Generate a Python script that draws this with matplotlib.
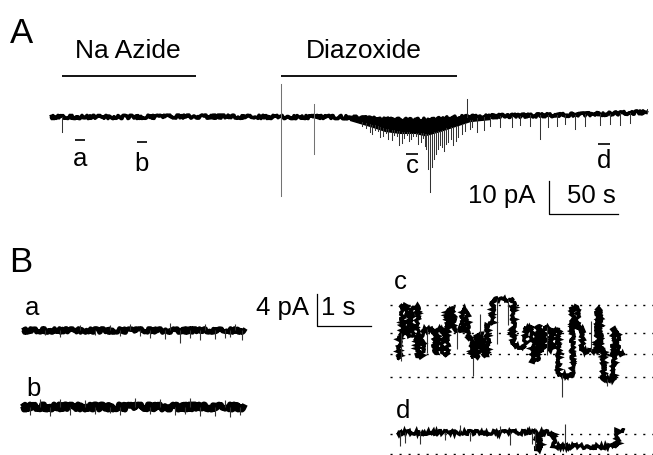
import numpy as np
import matplotlib
matplotlib.use("Agg")
import matplotlib.pyplot as plt

plt.rcParams['font.family'] = ['Liberation Sans', 'DejaVu Sans']

W, H, DPI = 653, 456, 100

# ------------------------------------------------------------------ data
# Panel A : whole recording (time in s, current in pA)
drug_names = ["Na Azide", "Diazoxide"]
drug_start = [8.7, 167.4]
drug_end = [105.8, 295.0]

A_base_t = [0, 50.7, 108.7, 166.7, 210.1, 224.6, 239.1, 253.6, 268.1, 282.6, 297.1, 326.1, 369.6, 398.6, 433.3]
A_base_i = [0, 0, 0.15, 0, 0, -0.3, -0.7, -0.9, -0.9, -0.6, -0.1, 0.3, 0.6, 0.9, 1.5]

# dense openings band during diazoxide
A_band_t = [217.4, 231.9, 242.8, 253.6, 264.5, 271.7, 282.6, 293.5, 304.3, 318.8]
A_band_top = [0.2, -0.2, -0.5, -0.7, -0.8, -0.8, -0.6, -0.2, 0.2, 0.3]
A_band_bot = [-0.9, -2.7, -4.2, -4.8, -4.8, -5.5, -4.2, -2.7, -1.2, -0.6]

A_spike_t = [8.7, 167.4, 167.4, 191.3, 191.3, 231.9, 235.5, 239.1, 243.5, 247.8, 251.4, 255.1,
             258.7, 261.6, 265.2, 268.8, 271.7, 273.9, 275.4, 276.8, 278.3, 281.2, 284.1,
             287.0, 290.6, 294.2, 298.6, 302.2, 304.3, 309.4, 326.1, 340.6, 355.1, 367.4,
             380.4, 398.6, 413.0, 432.6,
             226.1, 229.0, 233.3, 237.7, 241.3, 244.9, 249.3, 252.9, 256.5, 260.1, 263.0,
             266.7, 270.3, 272.5, 279.7, 282.6, 285.5, 288.4, 292.0, 295.7, 300.7, 305.8,
             314.5, 318.8, 334.8, 347.8, 360.9, 373.2, 387.7, 405.8, 420.3]
A_spike_base = [0, 0, 0, 0, 0, -2.0, -2.5, -3.0, -3.5, -4.0, -4.2, -4.5,
                -4.6, -4.7, -4.8, -4.8, -5.0, -5.2, -5.4, -5.0, -4.6, -4.2, -3.8,
                -3.4, -3.0, -2.6, -2.0, 0, -1.0, -0.2, 0.3, 0.4, 0.5, 0.6,
                0.7, 0.9, 1.1, 1.5,
                -1.6, -1.9, -2.3, -2.7, -3.2, -3.6, -4.0, -4.3, -4.5, -4.6, -4.7,
                -4.8, -4.9, -5.2, -4.6, -4.2, -3.9, -3.5, -3.0, -2.6, -1.8, -1.0,
                0.0, 0.1, 0.4, 0.5, 0.6, 0.6, 0.8, 1.0, 1.2]
A_spike_peak = [-4.5, 10.0, -23.9, 3.9, -11.2, -4.5, -3.9, -6.1, -4.8, -7.0, -5.8, -7.9,
                -5.5, -6.7, -5.8, -7.6, -8.8, -15.8, -22.7, -15.2, -12.7, -9.7, -9.1,
                -8.2, -6.7, -7.3, -5.2, 5.5, -3.6, -4.5, -3.0, -2.4, -6.7, -2.7,
                -3.6, -2.4, -2.4, 2.4,
                -2.7, -3.3, -5.2, -4.2, -5.8, -6.7, -5.5, -8.5, -6.4, -7.3, -5.8,
                -8.2, -6.4, -9.7, -11.2, -8.5, -10.3, -7.6, -8.5, -6.1, -4.2, -3.0,
                -3.9, -2.7, -3.0, -2.7, -3.0, -2.1, -2.7, -2.1, -1.8]

seg_names = ["a", "b", "c", "d"]
seg_start = [18.1, 63.0, 258.0, 397.1]
seg_end = [25.4, 70.3, 266.7, 405.8]

# Panel B traces (time in s, current in pA)
a_t = [0, 4.13]
a_i = [0, 0]
a_spk_t = [0.704, 1.352, 1.815, 2.370, 2.648, 2.926, 3.111, 3.296, 3.574, 3.759, 4.074,
           2.0, 1.630, 2.741, 3.389, 3.944, 1.074, 0.426, 2.185, 3.852]
a_spk_i = [-0.875, -0.625, -0.75, -1.0, -1.125, -1.625, -1.0, -1.25, -1.125, -1.0, -1.25,
           0.75, 0.625, 0.875, 0.75, 0.75, 0.625, -0.625, -0.75, -0.875]

b_t = [0, 4.13]
b_i = [0, 0]
b_spk_t = [0.148, 0.519, 0.889, 1.352, 1.815, 2.370, 2.833, 3.296, 3.574, 3.852, 4.037,
           0.333, 1.167, 2.093, 2.556, 3.111, 3.759, 1.630, 3.019, 0.704]
b_spk_i = [-1.0, -1.125, -1.0, -0.875, -1.0, -0.875, -1.0, -1.125, -1.125, -1.25, -1.0,
           1.0, 0.875, 1.125, 1.0, 1.125, 0.875, -0.75, -0.875, 1.0]

c_edges = [0, 0.037, 0.093, 0.185, 0.278, 0.370, 0.463, 0.685, 0.741, 0.852, 0.926, 1.037,
           1.204, 1.296, 1.389, 1.481, 1.574, 1.667, 1.759, 2.148, 2.370, 2.500, 2.593,
           2.648, 2.704, 2.815, 2.870, 2.981, 3.241, 3.333, 3.426, 3.704, 3.759, 3.815,
           4.000, 4.074, 4.185]
c_levels = [-6.5, -3.5, 0, -3.6, -0.1, -6.4, -3.0, -5.75, -3.0, -6.1, -0.5, -3.0, -0.5,
            -4.0, -6.5, -3.6, -6.1, -2.4, 0.75, -5.1, -2.75, -7.0, -2.75, -5.75, -2.75,
            -5.5, -3.0, -8.75, -0.25, -3.0, -5.75, -0.5, -5.5, -9.25, -3.0, -6.0]
c_spk_t = [0.07, 1.407, 1.852, 3.056, 1.537, 3.889, 0.55, 1.12, 2.05, 2.78, 3.60]
c_spk_base = [-3.5, -6.5, 0.75, -8.75, -3.6, -9.25, -3.0, -3.0, 0.75, -2.75, -5.75]
c_spk_peak = [-7.0, -8.9, -4.9, -11.5, -1.1, -10.1, -6.0, -5.5, -2.5, -6.2, -2.0]
c_dotted = [0, -3.5, -6.1, -9.0]

d_edges = [0, 2.593, 2.648, 2.889, 4.074, 4.185]
d_levels = [0.25, -1.9, 0.25, -1.5, 0.6]
d_spk_t = [0.056, 0.148, 0.426, 0.889, 1.352, 2.093, 2.5, 2.556, 3.111, 1.167, 1.907]
d_spk_base = [0.25, 0.25, 0.25, 0.25, 0.25, 0.25, 0.25, 0.25, -1.5, 0.25, 0.25]
d_spk_peak = [-1.5, -1.125, -1.25, -0.75, -0.875, -1.375, -1.25, -1.875, 1.25, 1.125, 1.0]
d_dotted = [0, -2.5]

# ------------------------------------------------------------------ layout helpers
fig = plt.figure(figsize=(W / DPI, H / DPI), dpi=DPI)


def make_axes(left, right, top, bottom, x0_px, y0_px, px_x, px_y):
    ax = fig.add_axes([left / W, 1 - bottom / H, (right - left) / W, (bottom - top) / H])
    ax.set_xlim((left - x0_px) / px_x, (right - x0_px) / px_x)
    ax.set_ylim((y0_px - bottom) / px_y, (y0_px - top) / px_y)
    ax.axis('off')
    return ax


def ftext(x, y, s, size, **kw):
    fig.text(x / W, 1 - y / H, s, fontsize=size, va='baseline', **kw)


def noisy(artist, amp, length=0.6):
    artist.set_sketch_params(scale=amp, length=length, randomness=3.0)


# ------------------------------------------------------------------ Panel A
axA = make_axes(0, W, 0, H, 50, 118, 1.38, 3.3)
ln, = axA.plot(A_base_t, A_base_i, color='black', lw=2.6, solid_capstyle='butt')
noisy(ln, 1.6)
pc = axA.fill_between(A_band_t, A_band_top, A_band_bot, color='black', lw=1.0)
noisy(pc, 2.2)
big = [1, 2, 3, 4]
for k, (t, b0, p) in enumerate(zip(A_spike_t, A_spike_base, A_spike_peak)):
    col = '0.45' if k in big else '0.2'
    axA.plot([t, t], [b0, p], color=col, lw=0.75)

for name, s0, s1 in zip(drug_names, drug_start, drug_end):
    axA.plot([s0, s1], [12.4, 12.4], color='black', lw=1.3, solid_capstyle='butt')
    axA.text((s0 + s1) / 2 - (4 if name == "Diazoxide" else 1), 12.4 + 5.8, name,
             fontsize=19, ha='center', va='baseline')

seg_bar_y = [-7.0, -7.6, -11.2, -8.2]
seg_lab_y = [-14.5, -16.1, -16.7, -15.2]
for name, s0, s1, by, ly in zip(seg_names, seg_start, seg_end, seg_bar_y, seg_lab_y):
    axA.plot([s0, s1], [by, by], color='black', lw=1.2, solid_capstyle='butt')
    axA.text((s0 + s1) / 2, ly, name, fontsize=18.5, ha='center', va='baseline')

# scale bar A: 10 pA, 50 s
sx, sy = 361.6, -29.4
axA.plot([sx, sx, sx + 50], [sy + 10, sy, sy], color='black', lw=0.9)
ftext(535, 203, "10 pA", 18.5, ha='right')
ftext(567, 203, "50 s", 18.5, ha='left')
ftext(10, 43, "A", 25)

# ------------------------------------------------------------------ Panel B
ftext(9, 272, "B", 25)

ax_a = make_axes(15, 250, 300, 362, 22, 331, 54, 8)
l, = ax_a.plot(a_t, a_i, color='black', lw=3.4, solid_capstyle='butt')
noisy(l, 2.0)
ax_a.vlines(a_spk_t, 0, a_spk_i, color='0.2', lw=0.8)
ftext(25, 315, "a", 18.5)

ax_b = make_axes(15, 250, 380, 440, 22, 408, 54, 8)
l, = ax_b.plot(b_t, b_i, color='black', lw=4.2, solid_capstyle='butt')
noisy(l, 2.6)
ax_b.vlines(b_spk_t, 0, b_spk_i, color='0.2', lw=0.8)
ftext(26, 396, "b", 18.5)

# scale bar B: 4 pA, 1 s
ax_s = make_axes(300, 390, 285, 340, 317, 327, 54, 8)
ax_s.plot([0, 0, 1], [4, 0, 0], color='black', lw=0.9)
ftext(309, 315, "4 pA", 18.5, ha='right')
ftext(321, 315, "1 s", 18.5, ha='left')

ax_c = make_axes(390, 653, 290, 400, 397, 306, 54, 8)
for lv in c_dotted:
    ax_c.axhline(lv, color='black', lw=1.0, ls=(0, (1.5, 5)))
st = ax_c.stairs(c_levels, c_edges, baseline=None, color='black', lw=2.4)
noisy(st, 1.8)
ax_c.vlines(c_spk_t, c_spk_base, c_spk_peak, color='0.2', lw=0.8)
ftext(394, 289, "c", 18.5)

ax_d = make_axes(390, 653, 420, 456, 397, 435, 54, 8)
for lv in d_dotted:
    ax_d.axhline(lv, color='black', lw=1.0, ls=(0, (1.5, 5)), clip_on=False)
st = ax_d.stairs(d_levels, d_edges, baseline=None, color='black', lw=2.4)
noisy(st, 1.9)
ax_d.vlines(d_spk_t, d_spk_base, d_spk_peak, color='0.2', lw=0.8)
ftext(396, 418, "d", 18.5)

fig.savefig("out.png", dpi=DPI)
